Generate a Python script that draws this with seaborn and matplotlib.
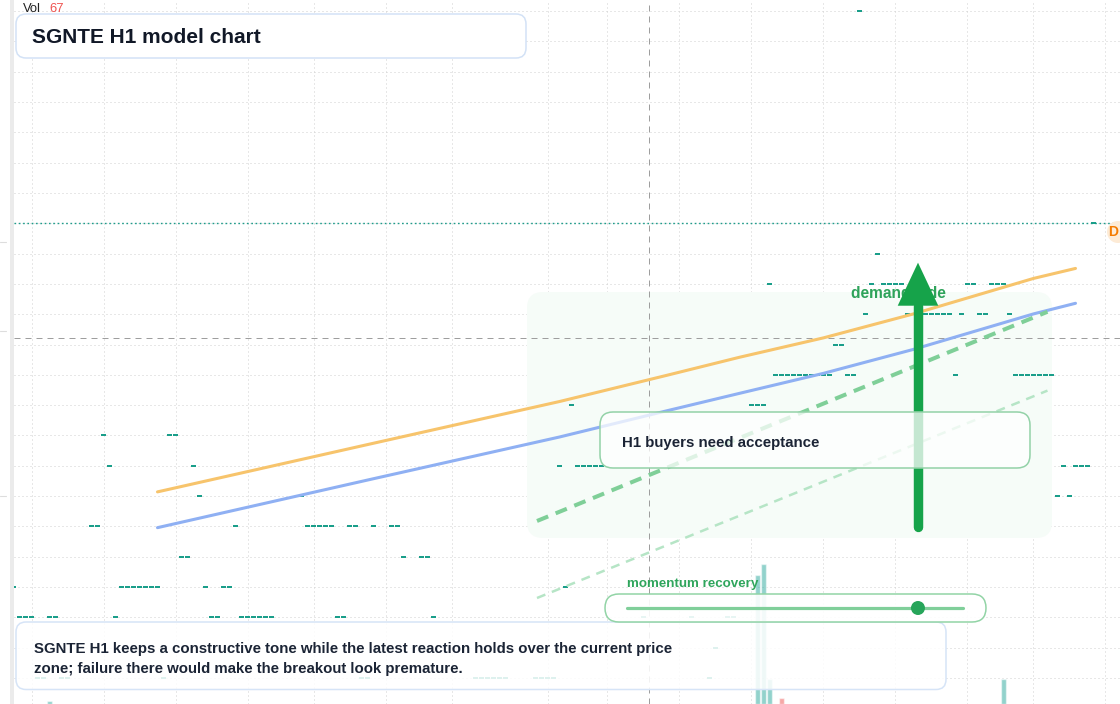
import numpy as np
import pandas as pd
import matplotlib
matplotlib.use("Agg")
import matplotlib.pyplot as plt
import seaborn as sns
from matplotlib.patches import FancyBboxPatch, Rectangle, Circle, Polygon
from matplotlib.lines import Line2D
from matplotlib.transforms import Affine2D
from matplotlib.colors import to_rgba

# ---------------- data ----------------
# flat candles (open == close) : bar index and price
candle_bar = [1, 2, 3, 4, 5, 6, 7, 8, 9, 10, 14, 15, 16, 17, 18, 19, 20, 21, 22, 23, 24, 25,
              26, 27, 28, 29, 30, 31, 32, 33, 34, 35, 36, 37, 38, 39, 40, 41, 42, 43, 44,
              49, 50, 51, 52, 53, 54, 55, 56, 57, 58, 59, 60, 61, 64, 65, 66, 69, 70, 71,
              78, 79, 80, 81, 82, 83, 88, 89, 90, 91, 92, 93, 94, 95, 96, 97, 98, 99,
              106, 114, 117, 118, 120, 121, 124, 125, 126, 127,
              128, 129, 130, 131, 132, 133, 134, 135, 136, 137, 138, 139, 140, 141, 142,
              143, 144, 145, 146, 147, 148, 149, 150, 151, 152, 153, 154, 155, 156, 157,
              158, 159, 160, 161, 162, 163, 164, 165, 166, 167,
              168, 169, 170, 171, 172, 173, 174, 175, 176, 177, 178, 179, 180, 181]
candle_price = [11, 10, 10, 10, 8, 8, 10, 10, 8, 8, 13, 13, 16, 15, 10, 11, 11, 11, 11, 11, 11, 11,
                8, 16, 16, 12, 12, 15, 14, 11, 10, 10, 11, 11, 13, 10, 10, 10, 10, 10, 10,
                14, 13, 13, 13, 13, 13, 10, 10, 13, 13, 8, 8, 13, 13, 13, 12, 12, 12, 10,
                8, 8, 8, 8, 8, 8, 8, 8, 8, 8, 15, 11, 17, 15, 15, 15, 15, 15,
                10, 10, 8, 9, 10, 10, 17, 17, 17, 21,
                18, 18, 18, 18, 18, 18, 18, 18, 18, 18, 19, 19, 18, 18, 30,
                20, 21, 22, 21, 21, 21, 21, 20, 20, 20, 20, 20, 20, 20, 20,
                18, 20, 21, 21, 20, 20, 21, 21, 21, 20,
                18, 18, 18, 18, 18, 18, 18, 14, 15, 14, 15, 15, 15, 23]

vol_bar = [7, 125, 126, 127, 129, 166]
vol_value = [11, 480, 521, 93, 22, 93]
vol_up = [True, True, True, True, False, True]

ma_bar = [25, 60, 92, 110, 122, 136, 151, 171, 178]
ma_upper = [14.14, 15.70, 17.12, 17.99, 18.58, 19.22, 20.01, 21.18, 21.51]
ma_lower = [12.96, 14.53, 15.95, 16.82, 17.39, 18.05, 18.84, 20.01, 20.36]

proj_bar = [88.25, 173.33]
proj_main = [13.18, 20.08]
proj_lower = [10.64, 17.48]

grid_bars = [4, 16, 28, 40, 51, 63, 74, 90, 100, 112, 124, 136, 148, 160, 171, 183]
price_levels = list(range(7, 31))
last_price = 23
cross_bar = 107
cross_price = 19.2

arrow_bar = 151.75
arrow_from = 12.98
arrow_head_base = 20.28
arrow_tip = 21.70
arrow_half_width = 3.38

momentum_value = 0.866
last_volume = "67"

title = "SGNTE H1 model chart"
note_lines = ["SGNTE H1 keeps a constructive tone while the latest reaction holds over the current price",
              "zone; failure there would make the breakout look premature."]
box_label = "H1 buyers need acceptance"
zone_label = "demand side"
slider_label = "momentum recovery"

# ---------------- style ----------------
sns.set_theme(style="white")
plt.rcParams["font.family"] = ["Liberation Sans", "DejaVu Sans"]

W, H, DPI = 1120, 704, 100
fig = plt.figure(figsize=(W / DPI, H / DPI), dpi=DPI)
fig.patch.set_facecolor("white")
px = Affine2D().scale(1 / DPI, -1 / DPI).translate(0, H / DPI) + fig.dpi_scale_trans

ax = fig.add_axes([14 / W, 0, (W - 14) / W, 1])
ax.set_facecolor("white")
for s in ax.spines.values():
    s.set_visible(False)

# grid
ax.set_xticks(grid_bars)
ax.set_yticks(price_levels)
ax.tick_params(length=0, labelleft=False, labelbottom=False)
ax.grid(True, color="#d0d0d0", lw=0.72, ls=(0, (1, 3)))
ax.set_axisbelow(True)

# demand zone
zone = FancyBboxPatch((527, 292), 525, 246, boxstyle="round,pad=0,rounding_size=16",
                      transform=px, fc="#f6fcf8", ec="none", zorder=0.8)
ax.add_patch(zone)

# crosshair & last price
ax.axvline(cross_bar, color="#9e9e9e", lw=0.72, ls=(0, (6, 5)), zorder=1.5)
ax.axhline(cross_price, color="#9e9e9e", lw=0.72, ls=(0, (6, 5)), zorder=1.5)
ax.axhline(last_price, color="#1f9c8b", lw=1.0, ls=(0, (1.2, 1.9)), zorder=1.6)

# candles
cb = np.array(candle_bar, dtype=float)
ax.hlines(candle_price, cb - 0.4, cb + 0.4, colors="#149c87", lw=1.4, zorder=2)

# moving-average style lines
df = pd.DataFrame({"bar": ma_bar * 2,
                   "value": ma_upper + ma_lower,
                   "series": ["upper"] * len(ma_bar) + ["lower"] * len(ma_bar)})
sns.lineplot(data=df, x="bar", y="value", hue="series",
             palette={"upper": "#f7c46c", "lower": "#8fb0f3"},
             lw=2.2, legend=False, errorbar=None, ax=ax, zorder=3)

# projections
ax.plot(proj_bar, proj_main, color="#7fcf98", lw=2.9, ls=(0, (3, 2)), zorder=3.1)
ax.plot(proj_bar, proj_lower, color="#b6e5c6", lw=1.8, ls=(0, (3.6, 2.8)), zorder=3.1)

# demand side label (below the arrow)
ax.text(851, 298.3, zone_label, transform=px, fontsize=11.2, fontweight="bold",
        color="#2ea35a", va="baseline", ha="left", zorder=3.5)

# arrow
ax.plot([arrow_bar, arrow_bar], [arrow_from, arrow_head_base], color="#16a34a",
        lw=6.8, solid_capstyle="round", zorder=4)
ax.add_patch(Polygon([[arrow_bar - arrow_half_width, arrow_head_base],
                      [arrow_bar + arrow_half_width, arrow_head_base],
                      [arrow_bar, arrow_tip]], closed=True, fc="#16a34a", ec="none", zorder=4))

# volume
axv = ax.twinx()
axv.set_ylim(0, 2620)
axv.bar(vol_bar, vol_value, width=0.78,
        color=["#26a69a" if u else "#ef5350" for u in vol_up], alpha=0.5)
axv.set_axis_off()

ax.set_xlim(1.0833, 185.4167)
axv.set_xlim(1.0833, 185.4167)
ax.set_ylim(7.144, 30.363)

# ---------------- overlays (pixel space) ----------------
fig.add_artist(Rectangle((10, 0), 4, H, transform=px, fc="#ebebeb", ec="none", zorder=1))
for yy in (242, 331, 496):
    fig.add_artist(Line2D([0, 6], [yy, yy], transform=px, color="#dddddd", lw=0.8, zorder=1))


def rbox(x0, y0, x1, y1, r, ec, a, z=5, lw=1.1):
    p = FancyBboxPatch((x0, y0), x1 - x0, y1 - y0, boxstyle=f"round,pad=0,rounding_size={r}",
                       transform=px, fc=to_rgba("white", a), ec=ec, lw=lw, zorder=z)
    fig.add_artist(p)


rbox(16, 14, 526, 58, 10, "#d3e2f6", 1.0)
rbox(16, 622, 946, 689.5, 10, "#d6e4f7", 0.86)
rbox(600, 412, 1030, 468, 13, "#93d2a8", 0.75)
rbox(605, 594, 986, 622, 14, "#92d4a6", 0.9)

# slider
fig.add_artist(Line2D([627, 963], [608, 608], transform=px, color="#80cf9a", lw=2.3, zorder=6))
dot_x = 627 + momentum_value * (963 - 627)
fig.add_artist(Circle((dot_x, 608), 7, transform=px, fc="#27a55a", ec="none", zorder=7))

# D badge
fig.add_artist(Circle((1118, 232), 11, transform=px, fc="#fdebd6", ec="none", zorder=5))
fig.text(1113.5, 232, "D", transform=px, fontsize=10, fontweight="bold", color="#f57c00",
         ha="center", va="center", zorder=6)

# texts
fig.text(23, 8.5, "Vol", transform=px, fontsize=9.4, color="#222222", va="center", zorder=6)
fig.text(49, 8.5, last_volume, transform=px, fontsize=9.4, color="#ef5350", va="center", zorder=6)
fig.text(32, 43.3, title, transform=px, fontsize=15, fontweight="bold", color="#111827",
         va="baseline", zorder=6)
fig.text(34, 653.3, note_lines[0], transform=px, fontsize=10.8, fontweight="bold",
         color="#1b2435", va="baseline", zorder=6)
fig.text(34, 673.3, note_lines[1], transform=px, fontsize=10.8, fontweight="bold",
         color="#1b2435", va="baseline", zorder=6)
fig.text(622, 447.3, box_label, transform=px, fontsize=10.8, fontweight="bold",
         color="#1b2435", va="baseline", zorder=6)
fig.text(627, 587.3, slider_label, transform=px, fontsize=9.6, fontweight="bold",
         color="#2fa55c", va="baseline", zorder=6)

fig.savefig("out.png", dpi=DPI, facecolor="white")
